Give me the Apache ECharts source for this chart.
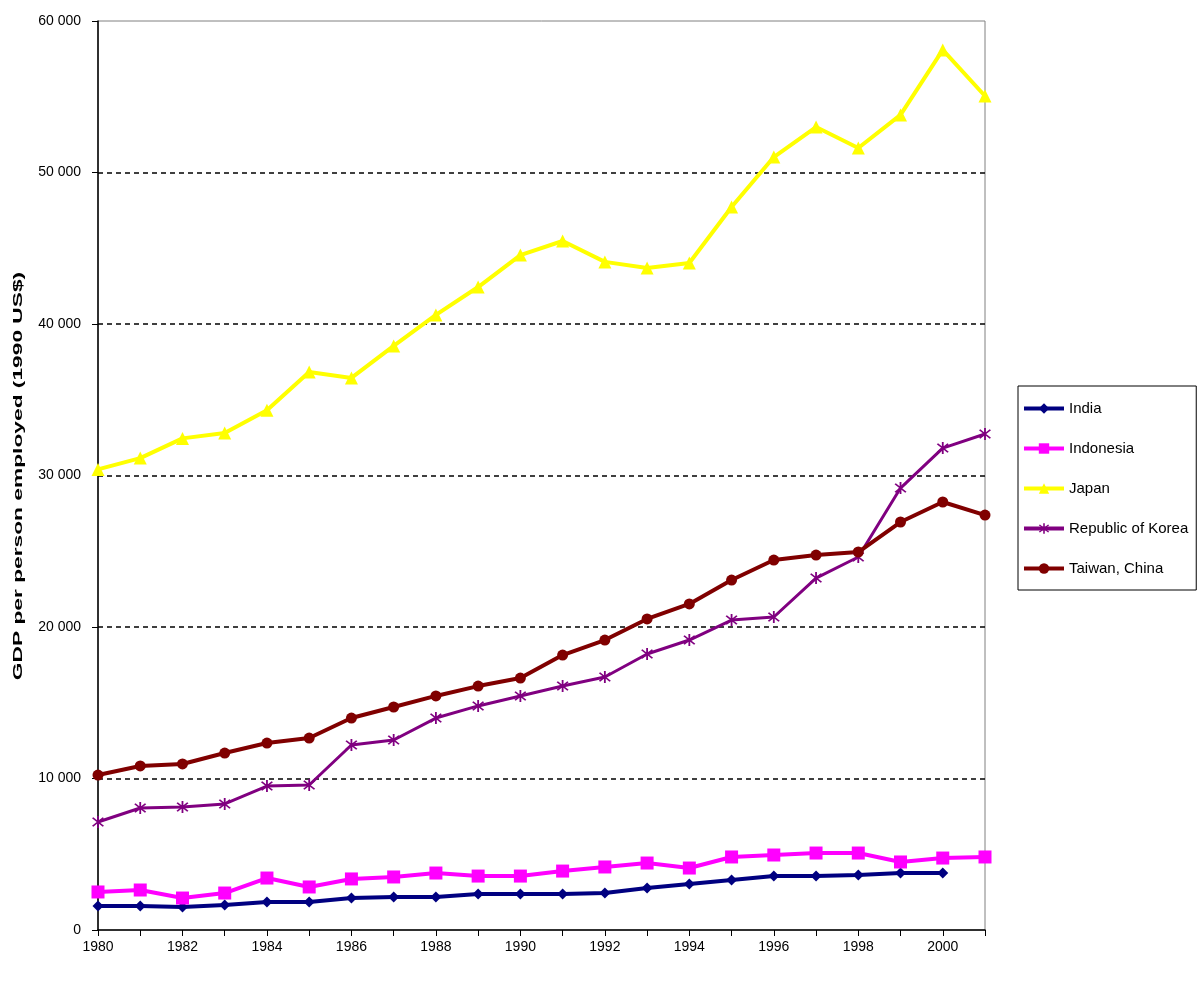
<!DOCTYPE html>
<html>
<head>
<meta charset="utf-8">
<script src="https://cdn.jsdelivr.net/npm/echarts@6/dist/echarts.min.js"></script>
<style>
html,body{margin:0;padding:0;background:#fff;}
#chart{width:1199px;height:984px;}
</style>
</head>
<body>
<div id="chart"></div>
<script>
var years = ['1980','1981','1982','1983','1984','1985','1986','1987','1988','1989','1990','1991','1992','1993','1994','1995','1996','1997','1998','1999','2000','2001'];
var seriesNames = ['India','Indonesia','Japan','Republic of Korea','Taiwan, China'];
var india = [1580,1580,1520,1650,1850,1850,2110,2180,2180,2380,2380,2380,2440,2770,3040,3300,3560,3560,3630,3760,3760,null];
var indonesia = [2510,2640,2110,2440,3430,2840,3370,3500,3760,3560,3560,3890,4160,4420,4090,4820,4950,5080,5080,4490,4750,4820];
var japan = [30400,31150,32450,32800,34300,36830,36440,38550,40600,42440,44550,45480,44100,43700,44030,47720,51020,53000,51620,53800,58090,55050];
var korea = [7130,8050,8120,8320,9500,9570,12210,12540,13990,14790,15450,16100,16700,18220,19140,20460,20660,23230,24620,29170,31810,32740];
var taiwan = [10230,10830,10960,11680,12340,12670,13990,14720,15450,16100,16630,18150,19140,20530,21520,23100,24420,24750,24950,26930,28250,27390];
var yAxisTitle = 'GDP per person employed (1990 US$)';

var starPath = 'path://M-0.12,-1L0.12,-1L0.12,1L-0.12,1Z' +
  'M-0.792,-0.622L-0.622,-0.792L0.792,0.622L0.622,0.792Z' +
  'M-0.622,0.792L-0.792,0.622L0.622,-0.792L0.792,-0.622Z';

var font = 'Liberation Sans, Arial, sans-serif';

function mk(name, data, color, symbol, size, width) {
  return {
    name: name, type: 'line', data: data,
    symbol: symbol, symbolSize: size, showAllSymbol: true,
    connectNulls: false,
    lineStyle: {color: color, width: width},
    itemStyle: {color: color},
    emphasis: {disabled: true},
    animation: false
  };
}

var chart = echarts.init(document.getElementById('chart'), null, {renderer: 'canvas'});
chart.setOption({
  backgroundColor: '#fff',
  animation: false,
  textStyle: {fontFamily: font},
  grid: {left: 98, right: 214, top: 21, bottom: 54, containLabel: false, outerBoundsMode: 'none',
    show: true, borderColor: '#808080', borderWidth: 1, backgroundColor: 'transparent'},
  graphic: [{
    type: 'text', x: 18, y: 476, rotation: Math.PI / 2, scaleX: 1.75, scaleY: 1.05,
    silent: true,
    style: {text: yAxisTitle, font: 'bold 13px ' + font, fill: '#000', textAlign: 'center', textVerticalAlign: 'middle'}
  }],
  legend: {
    orient: 'vertical', left: 1018, top: 386,
    data: seriesNames,
    itemWidth: 40, itemHeight: 13, itemGap: 25,
    padding: [15, 8, 14, 4],
    borderColor: '#000', borderWidth: 1,
    lineStyle: {width: 4},
    textStyle: {fontSize: 15, color: '#000', fontFamily: font}
  },
  xAxis: {
    type: 'category', data: years, boundaryGap: false,
    axisLine: {lineStyle: {color: '#000', width: 1.5}},
    axisTick: {show: true, interval: 0, length: 6, lineStyle: {color: '#000'}},
    axisLabel: {interval: 1, fontSize: 14, color: '#000', margin: 10, fontFamily: font},
    splitLine: {show: false}
  },
  yAxis: {
    type: 'value', min: 0, max: 60000, interval: 10000,
    axisLine: {show: true, lineStyle: {color: '#000', width: 1.5}},
    axisTick: {show: true, length: 6, lineStyle: {color: '#000'}},
    axisLabel: {fontSize: 14, color: '#000', margin: 17, fontFamily: font,
      formatter: function (v) { return v === 0 ? '0' : (v / 1000) + ' 000'; }},
    splitLine: {show: true, showMinLine: false, showMaxLine: false, lineStyle: {color: '#000', type: [5, 4], width: 1.5}}
  },
  series: [
    mk('India', india, '#000080', 'diamond', 11, 4),
    mk('Indonesia', indonesia, '#FF00FF', 'rect', 13, 4),
    mk('Japan', japan, '#FFFF00', 'triangle', 13, 4),
    mk('Republic of Korea', korea, '#800080', starPath, 12, 3),
    mk('Taiwan, China', taiwan, '#800000', 'circle', 11, 4)
  ]
});
</script>
</body>
</html>
